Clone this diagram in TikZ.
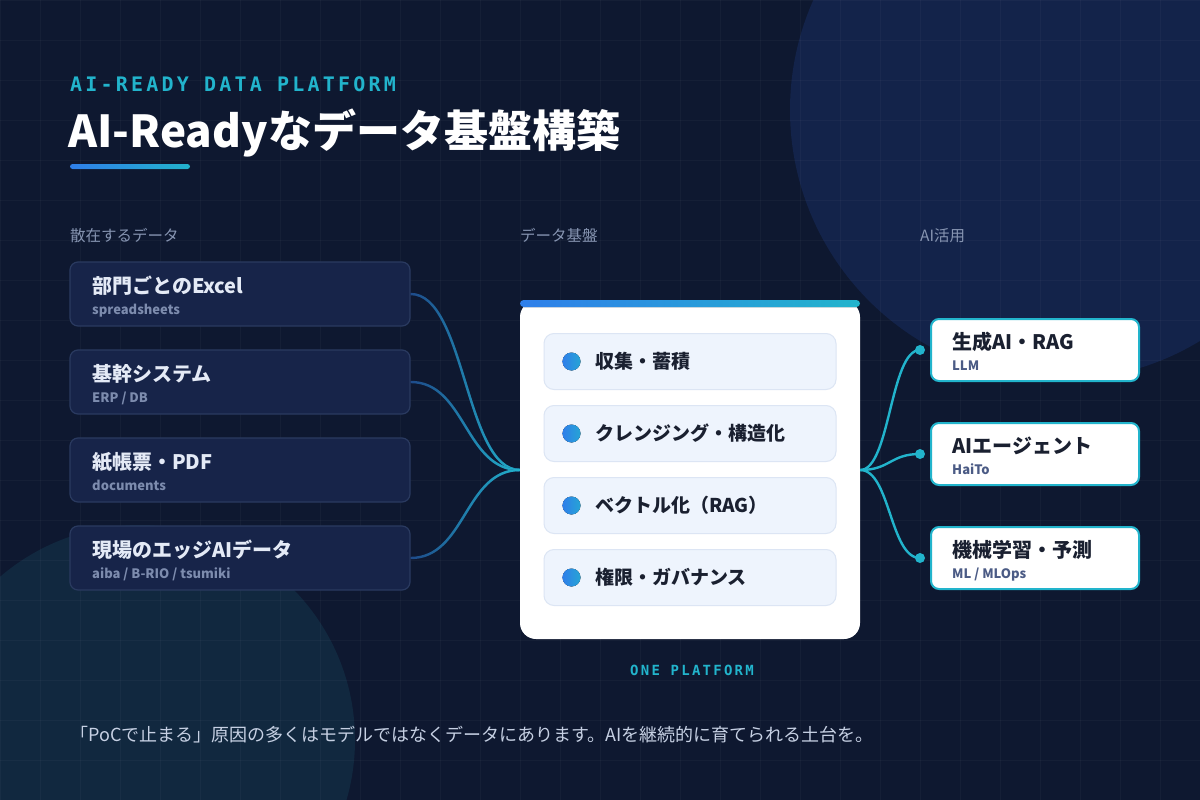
\documentclass[tikz,border=0pt]{standalone}
\usepackage{fontspec}
\usepackage{tikz}
\usetikzlibrary{positioning,fadings,calc}
\setmainfont{Noto Sans CJK JP}
\newfontfamily\kickerfont[LetterSpace=16]{DejaVu Sans Mono}
\definecolor{PageBg}{HTML}{0E1830}
\definecolor{OrbBlue}{HTML}{13234A}
\definecolor{OrbTeal}{HTML}{11283F}
\definecolor{AccentTeal}{HTML}{22B4CC}
\definecolor{AccentBlue}{HTML}{2F7FEA}
\definecolor{SrcFill}{HTML}{172449}
\definecolor{SrcEdge}{HTML}{2A3A60}
\definecolor{SrcText}{HTML}{E4EAF6}
\definecolor{SrcSub}{HTML}{7D8CAE}
\definecolor{HeadGray}{HTML}{8795B2}
\definecolor{ItemFill}{HTML}{EEF4FD}
\definecolor{ItemEdge}{HTML}{DCE5F4}
\definecolor{InkDark}{HTML}{1A2030}
\definecolor{UseSub}{HTML}{4B5B85}
\definecolor{WireBlue}{HTML}{1E4A8A}
\definecolor{NoteGray}{HTML}{C6D0E3}
\tikzfading[name=wirefade, left color=transparent!100, right color=transparent!0]

\begin{document}
\begin{tikzpicture}[x=1pt, y=-1pt, every node/.style={inner sep=0pt},
    gridline/.style={white, opacity=0.03, line width=0.8pt},
    kicker/.style={anchor=base west, text=AccentTeal, font=\kickerfont\fontsize{20}{24}\selectfont\bfseries},
    colhead/.style={anchor=base west, text=HeadGray, font=\fontsize{15.5}{18}\selectfont},
    srcbox/.style={draw=SrcEdge, line width=1.2pt, fill=SrcFill, rounded corners=8pt, minimum width=340pt, minimum height=64pt},
    srctitle/.style={anchor=base west, text=SrcText, font=\fontsize{20}{24}\selectfont\bfseries},
    srcsub/.style={anchor=base west, text=SrcSub, font=\fontsize{13}{16}\selectfont\bfseries},
    coreitem/.style={draw=ItemEdge, line width=1pt, fill=ItemFill, rounded corners=10pt, minimum width=292pt, minimum height=56pt},
    itemtext/.style={anchor=base west, text=InkDark, font=\fontsize{19}{22}\selectfont\bfseries},
    itemdot/.style={left color=AccentBlue, right color=AccentTeal!70!AccentBlue},
    usebox/.style={draw=AccentTeal, line width=2pt, fill=white, rounded corners=8pt, minimum width=208pt, minimum height=62pt},
    usetitle/.style={anchor=base west, text=InkDark, font=\fontsize{20}{24}\selectfont\bfseries},
    usesub/.style={anchor=base west, text=UseSub, font=\fontsize{13}{16}\selectfont\bfseries},
    wire/.style={WireBlue, line width=2.4pt},
    usewire/.style={AccentTeal, line width=2.4pt}]

    % Page, orbs and grid
    \useasboundingbox (0,0) rectangle (1200,800);
    \fill[PageBg] (0,0) rectangle (1200,800);
    \fill[OrbBlue] (1060,110) circle (270pt);
    \fill[OrbTeal] (140,740) circle (215pt);
    \foreach \gx in {0,40,...,1200} \draw[gridline] (\gx,0) -- (\gx,800);
    \foreach \gy in {0,40,...,800} \draw[gridline] (0,\gy) -- (1200,\gy);

    % Heading
    \node[kicker] (kicker) at (70,92) {AI-READY DATA PLATFORM};
    \node[anchor=base west, text=white, font=\fontsize{44}{50}\selectfont\bfseries] (title) at (68,147) {AI-Readyなデータ基盤構築};
    \fill[left color=AccentBlue, right color=AccentTeal, rounded corners=2.5pt] (70,164) rectangle (190,169);

    % Column heads
    \node[colhead] (headsrc) at (70,241) {散在するデータ};
    \node[colhead] (headcore) at (520,241) {データ基盤};
    \node[colhead] (headuse) at (920,241) {AI活用};

    % Scattered data
    \node[srcbox] (src1) at (240,294) {};
    \node[srctitle] at (92,293) {部門ごとのExcel};
    \node[srcsub] at (92,314) {spreadsheets};
    \node[srcbox] (src2) at (240,382) {};
    \node[srctitle] at (92,381) {基幹システム};
    \node[srcsub] at (92,402) {ERP / DB};
    \node[srcbox] (src3) at (240,470) {};
    \node[srctitle] at (92,469) {紙帳票・PDF};
    \node[srcsub] at (92,490) {documents};
    \node[srcbox] (src4) at (240,558) {};
    \node[srctitle] at (92,557) {現場のエッジAIデータ};
    \node[srcsub] at (92,578) {aiba / B-RIO / tsumiki};

    % Data platform
    \node[fill=white, rounded corners=16pt, minimum width=340pt, minimum height=338pt] (core) at (690,470) {};
    \fill[left color=AccentBlue, right color=AccentTeal, rounded corners=3.5pt] (520,300) rectangle (860,307);
    \node[coreitem] (item1) at (690,361.5) {};
    \node[coreitem] (item2) at (690,433.5) {};
    \node[coreitem] (item3) at (690,505.5) {};
    \node[coreitem] (item4) at (690,577.5) {};
    \foreach \i in {1,...,4} \fill[itemdot] ([xshift=28pt]item\i.west) circle (9pt);
    \node[itemtext] at (595,368.5) {収集・蓄積};
    \node[itemtext] at (595,440.5) {クレンジング・構造化};
    \node[itemtext] at (595,512.5) {ベクトル化（RAG）};
    \node[itemtext] at (595,584.5) {権限・ガバナンス};
    \node[anchor=base, text=AccentTeal, font=\kickerfont\fontsize{14}{16}\selectfont\bfseries] (onetag) at (692,675) {ONE PLATFORM};

    % AI use
    \node[usebox] (use1) at (1035,350) {};
    \node[usetitle] at (952,349) {生成AI・RAG};
    \node[usesub] at (952,370) {LLM};
    \node[usebox] (use2) at (1035,454) {};
    \node[usetitle] at (952,453) {AIエージェント};
    \node[usesub] at (952,474) {HaiTo};
    \node[usebox] (use3) at (1035,558) {};
    \node[usetitle] at (952,557) {機械学習・予測};
    \node[usesub] at (952,578) {ML / MLOps};

    % Wires in
    \foreach \i in {1,2,4} {
        \draw[wire] (src\i.east) .. controls +(55,0) and +(-55,0) .. (core.west);
        \draw[wire, AccentTeal, path fading=wirefade] (src\i.east) .. controls +(55,0) and +(-55,0) .. (core.west);
    }

    % Wires out
    \foreach \i in {1,2,3} {
        \coordinate (tip\i) at ([xshift=-10pt]use\i.west);
        \draw[usewire] (core.east) .. controls +(30,0) and +(-30,0) .. (tip\i);
        \fill[AccentTeal] (tip\i) circle (5pt);
    }

    % Note
    \node[anchor=base west, text=NoteGray, font=\fontsize{18}{22}\selectfont] (note) at (70,741) {「PoCで止まる」原因の多くはモデルではなくデータにあります。AIを継続的に育てられる土台を。};
\end{tikzpicture}
\end{document}
